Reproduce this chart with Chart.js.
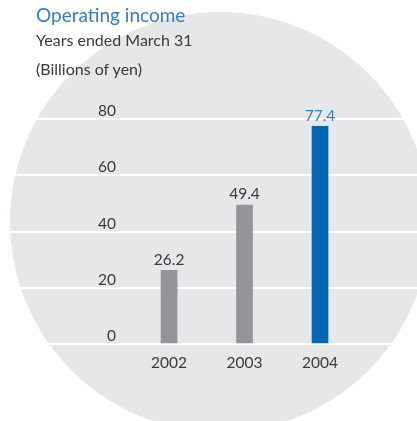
<!DOCTYPE html>
<html>
<head>
<meta charset="utf-8">
<script src="https://cdn.jsdelivr.net/npm/chart.js@4.4.0/dist/chart.umd.min.js"></script>
<style>
  html, body { margin: 0; padding: 0; background: #fff; }
  #wrap { position: relative; width: 417px; height: 421px; }
  #resultChart { position: absolute; left: 0; top: 0; }
  .head { position: absolute; left: 36px; font-family: Lato, sans-serif; white-space: nowrap; }
  #title { top: 4px; font-size: 19px; line-height: 22px; color: #2f7fc8; }
  #sub1 { top: 30px; font-size: 16px; line-height: 20px; color: #3a3a3a; }
  #sub2 { top: 59px; font-size: 16px; line-height: 20px; color: #3a3a3a; }
</style>
</head>
<body>
<div id="wrap">
  <canvas id="resultChart" width="417" height="421"></canvas>
  <div class="head" id="title">Operating income</div>
  <div class="head" id="sub1">Years ended March 31</div>
  <div class="head" id="sub2">(Billions of yen)</div>
</div>
<script>
// Operating income, billions of yen

const years = [2002, 2003, 2004];
const income = [26.2, 49.4, 77.4];
const yTicks = [0, 20, 40, 60, 80];

const barColors = ["#939598", "#939598", "#0066b3"];
const labelColors = ["#3a3a3a", "#3a3a3a", "#2f7fc8"];

// Big grey disc behind the plot
const discPlugin = {
  id: "disc",
  beforeDraw(chart) {
    const c = chart.ctx;
    c.save();
    c.fillStyle = "#e6e7e8";
    c.beginPath();
    c.arc(220, 222, 210, 0, Math.PI * 2);
    c.fill();
    c.restore();
  },
};

// Value written over each bar
const valuePlugin = {
  id: "values",
  afterDatasetsDraw(chart) {
    const c = chart.ctx;
    const meta = chart.getDatasetMeta(0);
    c.save();
    c.font = "15.5px Lato, sans-serif";
    c.textAlign = "center";
    c.textBaseline = "bottom";
    meta.data.forEach((bar, i) => {
      c.fillStyle = labelColors[i];
      c.fillText(income[i].toFixed(1), bar.x, bar.y - 3);
    });
    c.restore();
  },
};

const tickFont = { family: "Lato", size: 15.5 };

var ctx = document.getElementById("resultChart").getContext("2d");
var resultChart = new Chart(ctx, {
  type: "bar",
  data: {
    datasets: [
      {
        label: "Operating income",
        data: years.map((y, i) => ({ x: y, y: income[i] })),
        backgroundColor: barColors,
        barThickness: 16,
      },
    ],
  },
  options: {
    responsive: false,
    animation: false,
    layout: { padding: { top: 119, left: 0, right: 0, bottom: 0 } },
    plugins: {
      legend: { display: false },
      tooltip: { enabled: false },
    },
    scales: {
      x: {
        type: "linear",
        offset: false,
        min: 1999.76,
        max: 2005.285,
        grid: { display: false, drawTicks: false },
        border: { display: false },
        afterBuildTicks: (s) => {
          s.ticks = years.map((v) => ({ value: v }));
        },
        afterFit: (s) => {
          s.height = 77;
        },
        ticks: {
          padding: 10,
          color: "#3a3a3a",
          font: tickFont,
          callback: (v) => String(v),
        },
      },
      y: {
        min: 0,
        max: 80,
        grid: { color: "#ffffff", lineWidth: 2, drawTicks: false },
        border: { display: false },
        afterBuildTicks: (s) => {
          s.ticks = yTicks.map((v) => ({ value: v }));
        },
        afterFit: (s) => {
          s.width = 0;
          s.paddingTop = 0;
          s.paddingBottom = 0;
        },
        ticks: {
          mirror: true,
          crossAlign: "far",
          padding: 98,
          labelOffset: -8,
          color: "#3a3a3a",
          font: tickFont,
        },
      },
    },
  },
  plugins: [discPlugin, valuePlugin],
});
</script>
</body>
</html>
